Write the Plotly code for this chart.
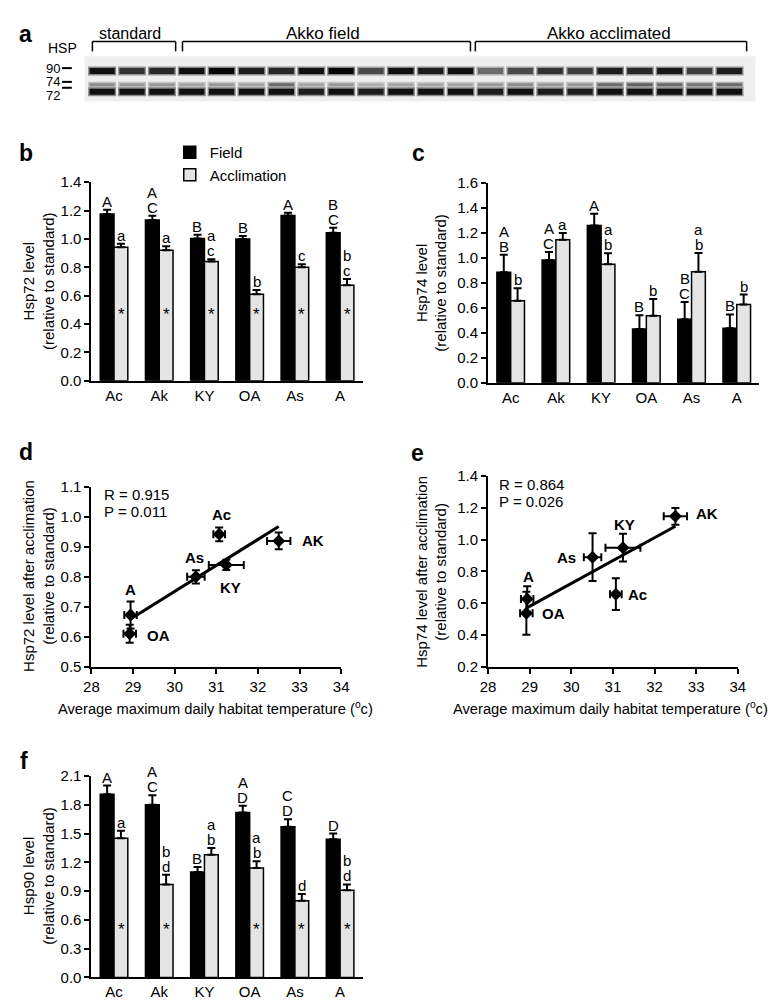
"""Hsp72 / Hsp74 / Hsp90 levels in field and acclimated animals (panels a-f)."""

import numpy as np
import plotly.graph_objects as go

W, H = 777, 1006
FONT = "Liberation Sans, Arial, sans-serif"

# ---- data -------------------------------------------------------------
sites = ["Ac", "Ak", "KY", "OA", "As", "A"]

# panel a: western blot, band intensity per lane (0 = background, 1 = black)
lane_groups = ["standard"] * 3 + ["Akko field"] * 10 + ["Akko acclimated"] * 9
band_kda = ["90", "74", "72"]
band_migration = [15, 29, 36]
band90 = [0.95, 0.8, 0.85,
          0.95, 1.0, 0.9, 0.85, 0.95, 1.0, 0.7, 0.95, 0.9, 0.95,
          0.55, 0.7, 0.8, 0.75, 0.9, 0.85, 0.92, 0.75, 0.9]
band74 = [0.4, 0.35, 0.35,
          0.3, 0.35, 0.3, 0.55, 0.3, 0.35, 0.25, 0.3, 0.3, 0.3,
          0.35, 0.4, 0.35, 0.35, 0.55, 0.6, 0.55, 0.5, 0.55]
band72 = [0.95, 0.95, 0.95,
          0.95, 0.95, 0.95, 0.95, 0.9, 0.95, 0.9, 0.95, 0.95, 0.95,
          0.9, 0.95, 0.9, 0.9, 0.95, 0.95, 0.95, 0.95, 0.95]

# panel b: Hsp72
hsp72_field = [1.175, 1.133, 1.003, 1.0, 1.165, 1.043]
hsp72_field_err = [0.03, 0.03, 0.027, 0.02, 0.02, 0.035]
hsp72_accl = [0.942, 0.92, 0.84, 0.61, 0.80, 0.673]
hsp72_accl_err = [0.023, 0.028, 0.017, 0.03, 0.022, 0.045]
hsp72_field_letters = ["A", "A<br>C", "B", "B", "A", "B<br>C"]
hsp72_accl_letters = ["a", "a", "a<br>c", "b", "c", "b<br>c"]
hsp72_star = [True, True, True, True, True, True]

# panel c: Hsp74
hsp74_field = [0.885, 0.984, 1.26, 0.43, 0.508, 0.437]
hsp74_field_err = [0.14, 0.064, 0.095, 0.11, 0.14, 0.11]
hsp74_accl = [0.657, 1.147, 0.95, 0.537, 0.89, 0.627]
hsp74_accl_err = [0.10, 0.053, 0.087, 0.135, 0.15, 0.08]
hsp74_field_letters = ["A<br>B", "A<br>C", "A", "B", "B<br>C", "B"]
hsp74_accl_letters = ["b", "a", "a<br>b", "b", "a<br>b", "b"]
hsp74_star = [False] * 6

# panel f: Hsp90
hsp90_field = [1.91, 1.80, 1.10, 1.72, 1.57, 1.44]
hsp90_field_err = [0.09, 0.10, 0.05, 0.07, 0.08, 0.06]
hsp90_accl = [1.45, 0.97, 1.28, 1.14, 0.80, 0.91]
hsp90_accl_err = [0.08, 0.10, 0.07, 0.07, 0.07, 0.06]
hsp90_field_letters = ["A", "A<br>C", "B", "A<br>D", "C<br>D", "D"]
hsp90_accl_letters = ["a", "b<br>d", "a<br>b", "a<br>b", "d", "b<br>d"]
hsp90_star = [True, True, False, True, True, True]

# panels d, e: habitat temperature (same site order)
temp = [31.07, 32.5, 31.24, 28.92, 30.51, 28.94]
temp_err = [0.14, 0.28, 0.42, 0.15, 0.21, 0.15]
scatter_labels = ["Ac", "AK", "KY", "OA", "As", "A"]
stats_d = ["R = 0.915", "P = 0.011"]
stats_e = ["R = 0.864", "P = 0.026"]


def px_x(a, b):
    return [a / W, b / W]


def px_y(top, bottom):
    return [1 - bottom / H, 1 - top / H]


fig = go.Figure()

# ---- panel a: blot ----------------------------------------------------
lanes = list(range(len(lane_groups)))
band_thick = {"90": 6, "74": 3, "72": 6}
blot_scale = [[0, "#e8e8e8"], [1, "#050505"]]
for kda, mig, inten in zip(band_kda, band_migration, [band90, band74, band72]):
    # soft halo, then the band core
    fig.add_trace(go.Scatter(
        x=lanes, y=[mig] * len(lanes), mode="markers",
        marker=dict(symbol="line-ew", size=20,
                    line=dict(width=band_thick[kda] + 3, color=[v * 0.45 for v in inten],
                              colorscale=blot_scale, cmin=0, cmax=1)),
        xaxis="x", yaxis="y", showlegend=False, hoverinfo="skip",
    ))
    fig.add_trace(go.Scatter(
        x=lanes, y=[mig] * len(lanes), mode="markers",
        marker=dict(symbol="line-ew", size=18,
                    line=dict(width=band_thick[kda], color=inten,
                              colorscale=blot_scale, cmin=0, cmax=1)),
        xaxis="x", yaxis="y", showlegend=False, hoverinfo="skip",
    ))

# ---- bar panels -------------------------------------------------------
bar_panels = [
    ("2", hsp72_field, hsp72_field_err, hsp72_accl, hsp72_accl_err,
     hsp72_field_letters, hsp72_accl_letters, hsp72_star, 0.47),
    ("3", hsp74_field, hsp74_field_err, hsp74_accl, hsp74_accl_err,
     hsp74_field_letters, hsp74_accl_letters, hsp74_star, 0.47),
    ("6", hsp90_field, hsp90_field_err, hsp90_accl, hsp90_accl_err,
     hsp90_field_letters, hsp90_accl_letters, hsp90_star, 0.50),
]

annotations = []


def letter_stack(ax, site, top, text, xshift):
    lines = text.split("<br>")
    for k, line in enumerate(reversed(lines)):
        annotations.append(dict(
            x=site, y=top, xref="x" + ax, yref="y" + ax, text=line,
            showarrow=False, xshift=xshift, yshift=-2 + 15 * k,
            xanchor="center", yanchor="bottom", font=dict(size=15)))


for ax, fv, fe, av, ae, fl, al, star, star_y in bar_panels:
    first = ax == "2"
    err = dict(type="data", symmetric=False, arrayminus=[0] * 6,
               color="black", thickness=2, width=4)
    fig.add_trace(go.Bar(
        x=sites, y=fv, name="Field", legendgroup="field", showlegend=first,
        marker=dict(color="black", line=dict(color="black", width=1.5)),
        error_y=dict(err, array=fe), offsetgroup="field",
        xaxis="x" + ax, yaxis="y" + ax,
    ))
    fig.add_trace(go.Bar(
        x=sites, y=av, name="Acclimation", legendgroup="accl", showlegend=first,
        marker=dict(color="#e4e4e4", line=dict(color="black", width=1.5)),
        error_y=dict(err, array=ae), offsetgroup="accl",
        xaxis="x" + ax, yaxis="y" + ax,
    ))
    for i, s in enumerate(sites):
        letter_stack(ax, s, fv[i] + fe[i], fl[i], -7)
        letter_stack(ax, s, av[i] + ae[i], al[i], 7)
        if star[i]:
            annotations.append(dict(
                x=s, y=star_y, xref="x" + ax, yref="y" + ax, text="*",
                showarrow=False, xshift=7, xanchor="center", yanchor="middle",
                font=dict(size=17)))

# ---- scatter panels ---------------------------------------------------
scatter_panels = [
    ("4", hsp72_accl, hsp72_accl_err,
     [(2, 20), (34, 0), (4, -23), (29, -2), (-1, 19), (0, 25)]),
    ("5", hsp74_accl, hsp74_accl_err,
     [(22, 0), (32, 3), (2, 23), (27, 0), (-26, 0), (1, 22)]),
]
for ax, yv, ye, offs in scatter_panels:
    slope, icpt = np.polyfit(temp, yv, 1)
    xfit = [min(temp), max(temp)]
    fig.add_trace(go.Scatter(
        x=xfit, y=[slope * v + icpt for v in xfit], mode="lines",
        line=dict(color="black", width=3), showlegend=False,
        xaxis="x" + ax, yaxis="y" + ax, hoverinfo="skip",
    ))
    fig.add_trace(go.Scatter(
        x=temp, y=yv, mode="markers", showlegend=False,
        marker=dict(symbol="diamond", size=10, color="black"),
        error_x=dict(type="data", array=temp_err, color="black", thickness=2, width=4),
        error_y=dict(type="data", array=ye, color="black", thickness=2, width=4),
        xaxis="x" + ax, yaxis="y" + ax,
    ))
    for i, lab in enumerate(scatter_labels):
        annotations.append(dict(
            x=temp[i], y=yv[i], xref="x" + ax, yref="y" + ax, text="<b>%s</b>" % lab,
            showarrow=False, xshift=offs[i][0], yshift=offs[i][1],
            xanchor="center", yanchor="middle", font=dict(size=15)))


def note(text, x, y, size=15, xanchor="center", **kw):
    annotations.append(dict(text=text, x=x / W, y=1 - y / H, xref="paper", yref="paper",
                            showarrow=False, font=dict(size=size),
                            xanchor=xanchor, yanchor="middle", **kw))


# panel letters
for letter, x, y in [("a", 10, 17), ("b", 10, 138), ("c", 411, 138),
                     ("d", 10, 442), ("e", 410, 443), ("f", 8, 757)]:
    note("<b>%s</b>" % letter, x, y, size=23)

# blot labels
note("HSP", 47, 32, size=14)
note("standard", 116, 17, size=16)
note("Akko field", 313, 17, size=17)
note("Akko acclimated", 605, 17, size=17)
for kda, y in zip(band_kda, [52, 66, 80]):
    note(kda, 38, y, size=13)

# r / p stats
for line, y in zip(stats_d, [486, 503]):
    note(line, 88, y, xanchor="left")
for line, y in zip(stats_e, [476, 493]):
    note(line, 491, y, xanchor="left")

# axis titles
for txt, x, y in [("Hsp72 level<br>(relative to standard)", 23, 269),
                  ("Hsp74 level<br>(relative to standard)", 424, 270),
                  ("Hsp72 level after acclimation<br>(relative to standard)", 23, 569),
                  ("Hsp74 level after acclimation<br>(relative to standard)", 424, 564),
                  ("Hsp90 level<br>(relative to standard)", 23, 874)]:
    note(txt, x, y, textangle=-90)
xt = "Average maximum daily habitat temperature (<sup>o</sup>c)"
note(xt, 204, 703, size=14.7)
note(xt, 607, 703, size=14.7)

shapes = []


def pline(x0, y0, x1, y1, w=1.5):
    shapes.append(dict(type="line", xref="paper", yref="paper",
                       x0=x0 / W, y0=1 - y0 / H, x1=x1 / W, y1=1 - y1 / H,
                       line=dict(color="black", width=w)))


# brackets above blot
for a, b in [(78, 163), (170, 464), (469, 746)]:
    pline(a, 35, a, 25)
    pline(a, 25, b, 25)
    pline(b, 25, b, 35)
# marker dashes
for y in [52, 66, 72]:
    pline(47, y, 57, y, w=2)
# blot background
shapes.append(dict(type="rect", xref="x domain", yref="y domain", x0=0, x1=1, y0=0, y1=1,
                   fillcolor="#eeeeee", line=dict(width=0), layer="below"))

axis_base = dict(showline=True, linecolor="black", linewidth=2, showgrid=False,
                 zeroline=False, ticks="outside", tickcolor="black", ticklen=5,
                 tickwidth=1.5, tickfont=dict(size=15, color="black"))
cat_axis = dict(axis_base, ticks="", type="category", range=[-0.5, 5.5])

fig.update_layout(
    width=W, height=H, margin=dict(l=0, r=0, t=0, b=0),
    paper_bgcolor="white", plot_bgcolor="white",
    font=dict(family=FONT, color="black", size=15),
    barmode="group", bargap=0.39, bargroupgap=0,
    showlegend=True,
    legend=dict(x=157 / W, y=1 - 121 / H, xanchor="left", yanchor="top",
                bgcolor="rgba(0,0,0,0)", font=dict(size=15), tracegroupgap=0,
                traceorder="normal"),
    annotations=annotations, shapes=shapes,
    # blot
    xaxis=dict(domain=px_x(70, 755), range=[-0.59, 21.87], visible=False),
    yaxis=dict(domain=px_y(40, 86), range=[46, 0], visible=False),
    # b
    xaxis2=dict(cat_axis, domain=px_x(77, 354), anchor="y2"),
    yaxis2=dict(axis_base, domain=px_y(168, 370), range=[0, 1.4], dtick=0.2,
                tickformat=".1f", anchor="x2"),
    # c
    xaxis3=dict(cat_axis, domain=px_x(482, 759), anchor="y3"),
    yaxis3=dict(axis_base, domain=px_y(169, 372), range=[0, 1.6], dtick=0.2,
                tickformat=".1f", anchor="x3"),
    # d
    xaxis4=dict(axis_base, domain=px_x(77, 332), range=[28, 34], dtick=1, anchor="y4"),
    yaxis4=dict(axis_base, domain=px_y(478, 661), range=[0.5, 1.1], dtick=0.1,
                tickformat=".1f", anchor="x4"),
    # e
    xaxis5=dict(axis_base, domain=px_x(482, 737), range=[28, 34], dtick=1, anchor="y5"),
    yaxis5=dict(axis_base, domain=px_y(467, 661), range=[0.2, 1.4], dtick=0.2,
                tickformat=".1f", anchor="x5"),
    # f
    xaxis6=dict(cat_axis, domain=px_x(77, 354), anchor="y6"),
    yaxis6=dict(axis_base, domain=px_y(772, 977), range=[0, 2.1], dtick=0.3,
                tickformat=".1f", anchor="x6"),
)

fig.write_html("out.html")
